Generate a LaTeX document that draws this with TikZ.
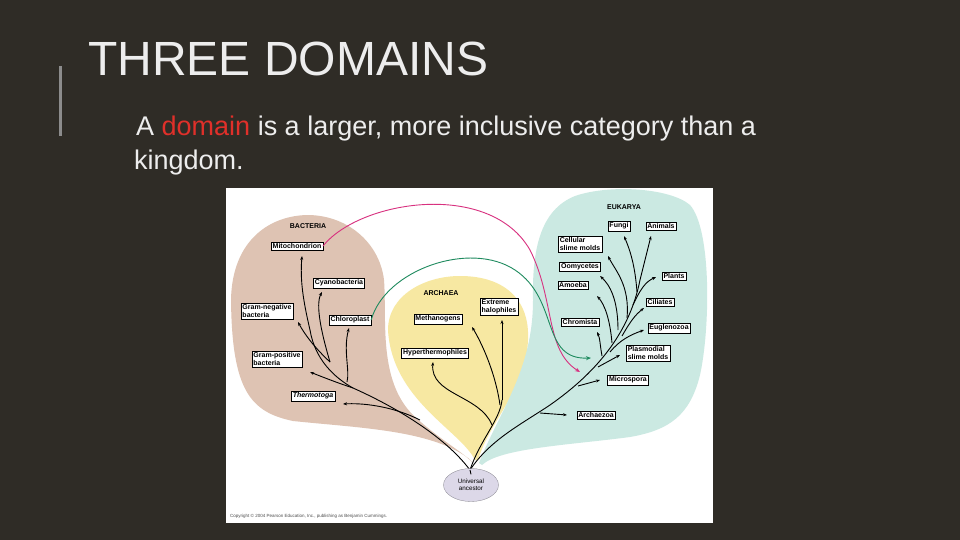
\documentclass[tikz,border=0pt]{standalone}
\usepackage{fontspec}
\setmainfont{Liberation Sans}
\usetikzlibrary{arrows.meta,shapes.geometric}
\definecolor{bg}{HTML}{2F2C26}
\definecolor{bac}{HTML}{DEC3B3}
\definecolor{arc}{HTML}{F7E8A2}
\definecolor{euk}{HTML}{CBE9E2}
\definecolor{anc}{HTML}{DCD8E8}
\definecolor{pinkc}{HTML}{D8307F}
\definecolor{greenc}{HTML}{1E8A5E}
\definecolor{txt}{HTML}{EDEDED}
\definecolor{dred}{HTML}{E0302A}
\tikzset{
 lab/.style={draw=black,line width=0.4pt,fill=white,inner sep=1.5pt,font=\fontsize{7}{7.6}\selectfont\bfseries,align=left},
 dom/.style={font=\fontsize{7}{8}\selectfont\bfseries},
 br/.style={line width=0.9pt,-{Stealth[length=4pt,width=3pt]}},
 tr/.style={line width=0.9pt},
}
\begin{document}
\begin{tikzpicture}[x=1pt,y=-1pt]
\fill[bg] (0,0) rectangle (960,540);
\useasboundingbox (0,0) rectangle (960,540);
\fill[black!45] (59,66) rectangle (62,136);
\node[anchor=base west,text=txt,font=\fontsize{48}{50}\selectfont,inner sep=0] (title) at (88,76) {THREE DOMAINS};
\node[anchor=base west,text=txt,font=\fontsize{27}{30}\selectfont,inner sep=0] (l1) at (136,136) {A \textcolor{dred}{domain} is a larger, more inclusive category than a};
\node[anchor=base west,text=txt,font=\fontsize{27}{30}\selectfont,inner sep=0] (l2) at (134,170) {kingdom.};
\fill[white] (226,188) rectangle (713,523);
% domains
\fill[bac] (468,458) .. controls (430,430) and (360,428) .. (293,421) .. controls (250,412) and (232,390) .. (231,300) .. controls (232,240) and (270,215) .. (309,215) .. controls (350,216) and (380,245) .. (384,280) .. controls (387,320) and (378,380) .. (413,415) .. controls (440,440) and (460,450) .. (472,462) -- cycle;
\fill[arc] (475,460) .. controls (460,430) and (392,400) .. (388,330) .. controls (388,295) and (425,276) .. (460,276) .. controls (505,276) and (530,300) .. (528,340) .. controls (526,390) and (490,420) .. (478,460) -- cycle;
\fill[euk] (479,463) .. controls (500,410) and (533,370) .. (533,300) .. controls (532,250) and (540,210) .. (575,196) .. controls (610,184) and (670,188) .. (690,205) .. controls (712,230) and (710,330) .. (700,375) .. controls (690,415) and (670,430) .. (630,437) .. controls (570,445) and (500,448) .. (482,465) -- cycle;
\coordinate (root) at (470,470);
% labels
\node[dom] (B) at (308,226) {BACTERIA};
\node[dom] (A) at (441,293) {ARCHAEA};
\node[dom] (E) at (624,207) {EUKARYA};
% bacteria tree
\coordinate (b1) at (420,420);
\coordinate (b2) at (353,388);
\coordinate (b3) at (330,362);
\draw[tr] (root) .. controls (440,430) and (380,400) .. (b2) .. controls (335,378) and (315,360) .. (310,330);
\draw[br] (b1) .. controls (390,405) and (360,403) .. (343,404);
\draw[br] (b2) .. controls (335,382) and (320,376) .. (310,372);
\draw[br] (b3) .. controls (315,348) and (305,335) .. (298,322);
\draw[br] (310,330) .. controls (303,300) and (300,280) .. (302,256);
\draw[br] (b3) .. controls (322,335) and (315,305) .. (322,292);
\draw[br] (347,382) .. controls (350,370) and (343,350) .. (349,328);
% archaea tree
\draw[tr] (root) .. controls (480,440) and (500,420) .. (502,400);
\draw[br] (502,400) -- (502,320);
\draw[br] (500,405) .. controls (495,370) and (480,340) .. (472,327);
\draw[br] (492,425) .. controls (480,395) and (430,395) .. (433,362);
% eukarya tree
\draw[tr] (root) .. controls (490,440) and (520,425) .. (550,405) .. controls (600,370) and (630,330) .. (640,280);
\draw[br] (640,280) -- (651,236);
\draw[br] (540,413) -- (567,415);
\draw[br] (578,386) -- (600,380);
\draw[br] (598,367) -- (620,355);
\draw[br] (610,352) .. controls (620,340) and (630,335) .. (644,330);
\draw[br] (602,356) .. controls (600,345) and (600,338) .. (597,332);
\draw[br] (622,336) .. controls (630,322) and (635,315) .. (644,308);
\draw[br] (612,343) .. controls (610,320) and (605,305) .. (597,296);
\draw[br] (633,305) .. controls (640,290) and (645,282) .. (656,277);
\draw[br] (618,330) .. controls (618,300) and (610,285) .. (600,276);
\draw[br] (627,318) .. controls (630,285) and (615,270) .. (608,256);
\draw[br] (637,292) .. controls (635,265) and (630,250) .. (624,236);
\node[draw=anc!60!black,line width=0.3pt,fill=anc,ellipse,minimum width=55pt,minimum height=33pt,inner sep=0,align=center,font=\fontsize{6.3}{7}\selectfont] (anc) at (471,485) {Universal\\ancestor};
\draw[tr] (anc.north) ++(0,6) -- (root);
\node[lab] (mito) at (297,246) {Mitochondrion};
\node[lab] (cyan) at (339,283) {Cyanobacteria};
\node[lab] (gneg) at (267,311) {Gram-negative\\bacteria};
\node[lab] (chlo) at (350,320) {Chloroplast};
\node[lab] (gpos) at (277,359) {Gram-positive\\bacteria};
\node[lab,font=\fontsize{7}{7.6}\selectfont\bfseries\itshape] (ther) at (313,396) {Thermotoga};
\node[lab] (meth) at (438,319) {Methanogens};
\node[lab] (halo) at (499,307) {Extreme\\halophiles};
\node[lab] (hyp) at (435,353) {Hyperthermophiles};
\node[lab] (fung) at (619,226) {Fungi};
\node[lab] (anim) at (661,226) {Animals};
\node[lab] (cell) at (580,244) {Cellular\\slime molds};
\node[lab] (oomy) at (580,267) {Oomycetes};
\node[lab] (amoe) at (573,285) {Amoeba};
\node[lab] (plan) at (674,276) {Plants};
\node[lab] (cili) at (660,302) {Ciliates};
\node[lab] (chro) at (580,322) {Chromista};
\node[lab] (eugl) at (669,328) {Euglenozoa};
\node[lab] (plas) at (648,353) {Plasmodial\\slime molds};
\node[lab] (micr) at (628,380) {Microspora};
\node[lab] (arcz) at (596,415) {Archaezoa};
\node[anchor=west,inner sep=0,font=\fontsize{4.5}{5}\selectfont,text=black!70] (copy) at (230,516) {Copyright \textcopyright{} 2004 Pearson Education, Inc., publishing as Benjamin Cummings.};
% transfer arrows
\draw[pinkc,line width=0.9pt,-{Stealth[length=5pt,width=4pt]}] (mito.east) .. controls (360,200) and (490,180) .. (530,250) .. controls (555,300) and (545,350) .. (580,372);
\draw[greenc,line width=0.9pt,-{Stealth[length=5pt,width=4pt]}] (chlo.east) .. controls (385,270) and (470,240) .. (515,270) .. controls (560,300) and (540,360) .. (591,358);
\end{tikzpicture}
\end{document}
